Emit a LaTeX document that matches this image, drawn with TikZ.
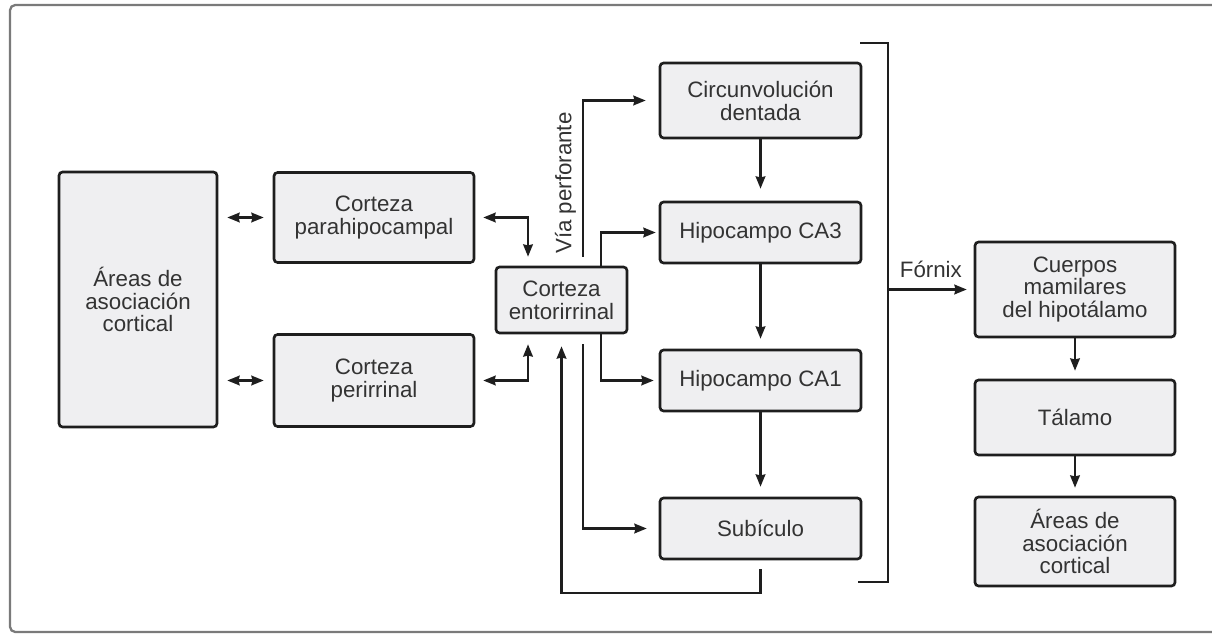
\documentclass[tikz,border=0pt]{standalone}
\usepackage{fontspec}
\setmainfont{Liberation Sans}
\usepackage{xcolor}
\usepackage{tikz}
\usetikzlibrary{
    arrows.meta
}
\definecolor{edge}{HTML}{1E1E1E}
\definecolor{boxfill}{HTML}{EFEFF1}
\definecolor{txt}{HTML}{333333}
\definecolor{framegrey}{HTML}{7A7A7A}

\begin{document}
\begin{tikzpicture}[x=0.02cm, y=-0.02cm,
		every node/.style={font=\fontsize{12.7}{13}\selectfont, text=txt},
		box/.style={draw=edge, fill=boxfill, line width=1.5pt, rounded corners=2pt, align=center, inner sep=2pt},
		link/.style={draw=edge, line width=1.25pt, -{Stealth[length=7pt, width=5.5pt, inset=0.6pt]}},
		both/.style={link, {Stealth[length=7pt, width=5.5pt, inset=0.6pt]}-{Stealth[length=7pt, width=5.5pt, inset=0.6pt]}},
		bracket/.style={draw=edge, line width=1.5pt},
		frame/.style={draw=framegrey, line width=1.3pt, rounded corners=3pt}]
		\useasboundingbox (0, 0) rectangle (1212, 634);
		\draw [frame] (1220, 5) -- (10, 5) -- (10, 632) -- (1220, 632);
		\node[box, minimum width=3.16cm, minimum height=5.1cm] (areasL) at (138, 299.5) {Áreas de\\asociación\\cortical};
		\node[box, minimum width=4cm, minimum height=1.8cm] (parahip) at (374, 217.5) {Corteza\\parahipocampal};
		\node[box, minimum width=4cm, minimum height=1.84cm] (peri) at (374, 380.5) {Corteza\\perirrinal};
		\node[box, minimum width=2.62cm, minimum height=1.32cm] (ento) at (561.5, 300) {Corteza\\entorirrinal};
		\node[box, minimum width=4.02cm, minimum height=1.5cm] (dentada) at (760.5, 100.5) {Circunvolución\\dentada};
		\node[box, minimum width=4.02cm, minimum height=1.22cm] (ca3) at (760.5, 232.5) {Hipocampo CA3};
		\node[box, minimum width=4.02cm, minimum height=1.22cm] (ca1) at (760.5, 380.5) {Hipocampo CA1};
		\node[box, minimum width=4.02cm, minimum height=1.22cm] (sub) at (760.5, 528.5) {Subículo};
		\node[box, minimum width=4cm, minimum height=1.9cm] (mamil) at (1075, 289.5) {Cuerpos\\mamilares\\del hipotálamo};
		\node[box, minimum width=4cm, minimum height=1.5cm] (talamo) at (1075, 417.5) {Tálamo};
		\node[box, minimum width=4cm, minimum height=1.78cm] (areasR) at (1075, 541.5) {Áreas de\\asociación\\cortical};
		\coordinate (fbbase) at (0, 593);
		\coordinate (brtop) at (888, 43);
		\coordinate (brbot) at (888, 582);
		\draw [both, shorten <=0.18cm, shorten >=0.18cm] (areasL.east |- parahip.west) -- (parahip.west);
		\draw [both, shorten <=0.18cm, shorten >=0.18cm] (areasL.east |- peri.west) -- (peri.west);
		\draw [both, shorten <=0.16cm, shorten >=0.18cm] (parahip.east) -| ([xshift=-0.67cm]ento.north);
		\draw [both, shorten <=0.16cm, shorten >=0.2cm] (peri.east) -| ([xshift=-0.67cm]ento.south);
		\draw [link, shorten <=0.18cm, shorten >=0.26cm] ([xshift=0.43cm]ento.north) |- node[pos=0.25, rotate=90, anchor=south] {Vía perforante} (dentada.west);
		\draw [link, shorten >=0.06cm] ([xshift=0.79cm]ento.north) |- (ca3.west);
		\draw [link, shorten >=0.1cm] ([xshift=0.79cm]ento.south) |- (ca1.west);
		\draw [link, shorten <=0.2cm, shorten >=0.24cm] ([xshift=0.43cm]ento.south) |- (sub.west);
		\draw [link, shorten <=0.18cm, shorten >=0.24cm] (sub.south) -- (sub.south |- fbbase) -| (ento.south);
		\draw [link, shorten >=0.24cm] (dentada) -- (ca3);
		\draw [link, shorten >=0.2cm] (ca3) -- (ca1);
		\draw [link, shorten >=0.2cm] (ca1) -- (sub);
		\draw [bracket] (860, 43) -- (brtop) -- (brbot) -- (858, 582);
		\draw [link, shorten >=0.14cm] (brtop |- mamil.west) -- node[above=3pt] {Fórnix} (mamil.west);
		\draw [link, shorten >=0.16cm] (mamil) -- (talamo);
		\draw [link, shorten >=0.16cm] (talamo) -- (areasR);
	\end{tikzpicture}
\end{document}
